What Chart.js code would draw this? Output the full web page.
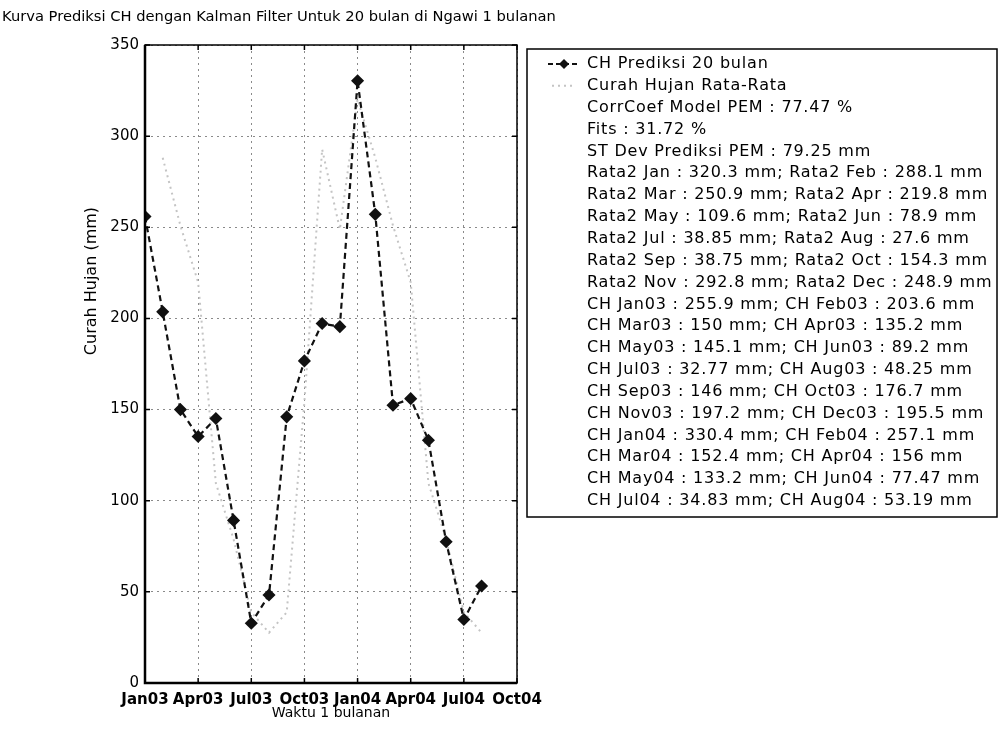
<!DOCTYPE html>
<html>
<head>
<meta charset="utf-8">
<title>Kurva Prediksi CH Ngawi</title>
<script src="https://cdn.jsdelivr.net/npm/chart.js@4.4.1/dist/chart.umd.min.js"></script>
<style>
  html, body { margin: 0; background: #fff; }
  #wrap { width: 999px; height: 740px; position: relative; }
</style>
</head>
<body>
<div id="wrap"><canvas id="chPrediksi"></canvas></div>
<script>
// label sumbu x, tiap 3 bulan
const tickBulan = ['Jan03', 'Apr03', 'Jul03', 'Oct03', 'Jan04', 'Apr04', 'Jul04', 'Oct04'];
// periode prediksi 20 bulan
const periode = ['Jan03', 'Feb03', 'Mar03', 'Apr03', 'May03', 'Jun03', 'Jul03', 'Aug03', 'Sep03', 'Oct03',
                 'Nov03', 'Dec03', 'Jan04', 'Feb04', 'Mar04', 'Apr04', 'May04', 'Jun04', 'Jul04', 'Aug04'];
// hasil prediksi kalman filter (mm)
const chPrediksi = [255.9, 203.6, 150, 135.2, 145.1, 89.2, 32.77, 48.25, 146, 176.7,
                    197.2, 195.5, 330.4, 257.1, 152.4, 156, 133.2, 77.47, 34.83, 53.19];
// curah hujan rata-rata per bulan (mm)
const namaBulan = ['Jan', 'Feb', 'Mar', 'Apr', 'May', 'Jun', 'Jul', 'Aug', 'Sep', 'Oct', 'Nov', 'Dec'];
const rata2Bulanan = [320.3, 288.1, 250.9, 219.8, 109.6, 78.9, 38.85, 27.6, 38.75, 154.3, 292.8, 248.9];
// statistik model
const corrCoef = 77.47;
const fits = 31.72;
const stDev = 79.25;

const FONT = 'DejaVu Sans';
const JUDUL = 'Kurva Prediksi CH dengan Kalman Filter Untuk 20 bulan di Ngawi 1 bulanan';

// titik-titik seri
const seriPrediksi = chPrediksi.map((v, i) => ({ x: i, y: v }));
// rata-rata digambar mulai Feb03
const seriRata2 = periode.map((p, i) => ({ x: i, y: rata2Bulanan[i % 12] })).slice(1);

// baris keterangan di kotak legenda
const infoLines = [
  'CorrCoef Model PEM : ' + corrCoef + ' %',
  'Fits : ' + fits + ' %',
  'ST Dev Prediksi PEM : ' + stDev + ' mm'
];
for (let i = 0; i < 12; i += 2) {
  infoLines.push(`Rata2 ${namaBulan[i]} : ${rata2Bulanan[i]} mm; Rata2 ${namaBulan[i + 1]} : ${rata2Bulanan[i + 1]} mm`);
}
for (let i = 0; i < periode.length; i += 2) {
  infoLines.push(`CH ${periode[i]} : ${chPrediksi[i]} mm; CH ${periode[i + 1]} : ${chPrediksi[i + 1]} mm`);
}

// bingkai plot, judul, label sumbu y
const bingkai = {
  id: 'bingkai',
  afterDatasetsDraw(chart) {
    const { ctx, chartArea: a } = chart;
    ctx.save();
    ctx.strokeStyle = '#000';
    ctx.lineWidth = 1.5;
    ctx.strokeRect(a.left, a.top, a.right - a.left, a.bottom - a.top);
    ctx.lineWidth = 2.5;
    ctx.beginPath();
    ctx.moveTo(a.left, a.top);
    ctx.lineTo(a.left, a.bottom);
    ctx.lineTo(a.right, a.bottom);
    ctx.stroke();
    // tick kecil ke dalam
    ctx.lineWidth = 1.5;
    const sx = chart.scales.x, sy = chart.scales.y;
    sx.ticks.forEach(t => {
      const x = sx.getPixelForValue(t.value);
      ctx.beginPath();
      ctx.moveTo(x, a.bottom); ctx.lineTo(x, a.bottom - 5);
      ctx.moveTo(x, a.top); ctx.lineTo(x, a.top + 5);
      ctx.stroke();
    });
    sy.ticks.forEach(t => {
      const y = sy.getPixelForValue(t.value);
      ctx.beginPath();
      ctx.moveTo(a.left, y); ctx.lineTo(a.left + 5, y);
      ctx.moveTo(a.right, y); ctx.lineTo(a.right - 5, y);
      ctx.stroke();
    });
    ctx.fillStyle = '#000';
    // judul grafik
    ctx.font = '14.7px "' + FONT + '"';
    ctx.textAlign = 'left';
    ctx.textBaseline = 'middle';
    ctx.fillText(JUDUL, 2, 17);
    // judul sumbu y
    ctx.font = '16px "' + FONT + '"';
    ctx.textAlign = 'center';
    ctx.translate(92, a.top + (a.bottom - a.top) * 0.37);
    ctx.rotate(-Math.PI / 2);
    ctx.fillText('Curah Hujan (mm)', 0, 0);
    ctx.restore();
  }
};

// kotak legenda berisi simbol seri dan statistik
const kotakLegenda = {
  id: 'kotakLegenda',
  afterDraw(chart) {
    const { ctx } = chart;
    const left = 527, top = 49, right = 997, bottom = 517;
    const x0 = 587, y0 = 64, gap = 21.85;
    ctx.save();
    ctx.strokeStyle = '#000';
    ctx.lineWidth = 1.5;
    ctx.strokeRect(left, top, right - left, bottom - top);

    const ds = chart.data.datasets;
    // simbol seri prediksi
    ctx.strokeStyle = ds[0].borderColor;
    ctx.lineWidth = 2;
    ctx.setLineDash([5, 3]);
    ctx.beginPath(); ctx.moveTo(548, y0); ctx.lineTo(580, y0); ctx.stroke();
    ctx.setLineDash([]);
    ctx.fillStyle = ds[0].pointBackgroundColor;
    ctx.beginPath();
    ctx.moveTo(564, y0 - 5); ctx.lineTo(569, y0); ctx.lineTo(564, y0 + 5); ctx.lineTo(559, y0);
    ctx.closePath(); ctx.fill();
    // simbol seri rata-rata
    ctx.strokeStyle = ds[1].borderColor;
    ctx.lineWidth = 2;
    ctx.setLineDash(ds[1].borderDash);
    ctx.beginPath(); ctx.moveTo(552, y0 + gap); ctx.lineTo(576, y0 + gap); ctx.stroke();
    ctx.setLineDash([]);

    ctx.fillStyle = '#000';
    ctx.font = '16px "' + FONT + '"';
    ctx.letterSpacing = '0.8px';
    ctx.textAlign = 'left';
    ctx.textBaseline = 'middle';
    const lines = [ds[0].label, ds[1].label, ...infoLines];
    lines.forEach((s, i) => ctx.fillText(s, x0, y0 + i * gap));
    ctx.restore();
  }
};

Chart.defaults.font.family = FONT;
Chart.defaults.color = '#000';

new Chart(document.getElementById('chPrediksi'), {
  type: 'line',
  data: {
    datasets: [
      {
        label: 'CH Prediksi 20 bulan',
        data: seriPrediksi,
        borderColor: '#111',
        borderWidth: 2.2,
        borderDash: [6, 4],
        pointStyle: 'rectRot',
        pointRadius: 5,
        pointBackgroundColor: '#111',
        pointBorderColor: '#111',
        tension: 0,
        order: 1
      },
      {
        label: 'Curah Hujan Rata-Rata',
        data: seriRata2,
        borderColor: '#c4c4c4',
        borderWidth: 2,
        borderDash: [2, 4],
        pointRadius: 0,
        tension: 0,
        order: 2
      }
    ]
  },
  options: {
    responsive: true,
    maintainAspectRatio: false,
    animation: false,
    layout: { padding: { left: 0, right: 482, top: 45, bottom: 0 } },
    plugins: {
      legend: { display: false },
      tooltip: { enabled: false },
      title: { display: false }
    },
    scales: {
      x: {
        type: 'linear',
        min: 0,
        max: 21,
        border: { display: false, dash: [2, 4] },
        grid: { color: '#8a8a8a', drawTicks: false, lineWidth: 1 },
        ticks: {
          stepSize: 3,
          autoSkip: false,
          maxRotation: 0,
          minRotation: 0,
          padding: 8,
          font: { size: 15, weight: 'bold' },
          callback: (v) => tickBulan[v / 3]
        },
        title: {
          display: true,
          text: 'Waktu 1 bulanan',
          font: { size: 14, weight: 'normal' },
          padding: { top: 0, bottom: 18 }
        },
        afterFit(scale) { scale.height = 57; }
      },
      y: {
        min: 0,
        max: 350,
        border: { display: false, dash: [2, 4] },
        grid: { color: '#8a8a8a', drawTicks: false, lineWidth: 1 },
        ticks: {
          stepSize: 50,
          padding: 6,
          font: { size: 15 }
        },
        afterFit(scale) { scale.width = 145; }
      }
    }
  },
  plugins: [bingkai, kotakLegenda]
});
</script>
</body>
</html>
